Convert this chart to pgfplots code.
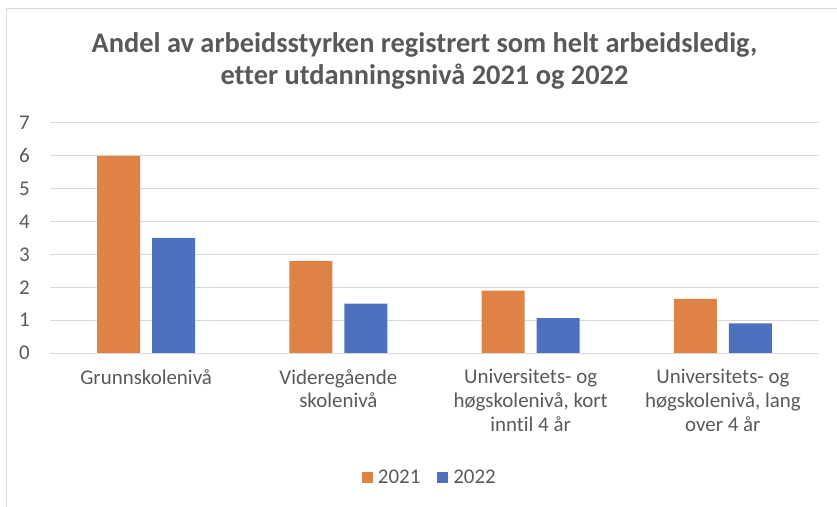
\documentclass[border=0pt]{standalone}
\usepackage{pgfplots}
\pgfplotsset{compat=1.18}
\usepackage{fontspec}
\setmainfont{Carlito}[Ligatures={NoCommon}]
\definecolor{cOrange}{HTML}{DE8246}
\definecolor{cBlue}{HTML}{4E71BE}
\definecolor{cGrid}{HTML}{D9D9D9}
\definecolor{cText}{HTML}{595959}
\begin{document}
\begin{tikzpicture}
\path[use as bounding box] (0bp,0bp) rectangle (837bp,507bp);
\draw[cGrid, line width=1bp] (6bp,0bp) -- (6bp,498bp) -- (837bp,498bp);
\node[align=center, text=cText, font=\fontsize{28.5}{32}\selectfont\bfseries, inner sep=0pt] at (424.5bp,446bp)
  {Andel av arbeidsstyrken registrert som helt arbeidsledig,\\etter utdanningsnivå 2021 og 2022};
\begin{axis}[
  at={(50bp,154bp)}, anchor=south west,
  scale only axis, width=769bp, height=230bp,
  ybar=12bp, bar width=43bp,
  xmin=-0.5, xmax=3.5, ymin=0, ymax=7,
  ytick={0,1,...,7},
  xtick=data,
  xticklabels={Grunnskolenivå, {Videregående\\skolenivå}, {Universitets- og\\høgskolenivå, kort\\inntil 4 år}, {Universitets- og\\høgskolenivå, lang\\over 4 år}},
  xticklabel style={align=center, anchor=north, inner sep=0pt, yshift=-16bp, font=\fontsize{21}{24}\selectfont, text=cText},
  yticklabel style={anchor=east, inner sep=0pt, xshift=-20bp, font=\fontsize{21}{23}\selectfont, text=cText},
  /pgf/number format/assume math mode=true,
  major tick length=0pt,
  axis line style={draw=none},
  ymajorgrids, grid style={cGrid, line width=1bp},
  legend style={at={(0.494,-0.543)}, anchor=center, draw=none, fill=none,
    legend columns=2, font=\fontsize{21}{23}\selectfont, text=cText,
    /tikz/every even column/.append style={column sep=15bp}},
  legend image code/.code={\fill[#1] (0bp,-5.5bp) rectangle (11bp,5.5bp); \path (0bp,0bp) -- (14bp,0bp);},
]
\addplot[fill=cOrange, draw=none] coordinates {(0,6.0) (1,2.8) (2,1.9) (3,1.65)};
\addplot[fill=cBlue, draw=none] coordinates {(0,3.5) (1,1.5) (2,1.06) (3,0.9)};
\legend{2021,2022}
\end{axis}
\end{tikzpicture}
\end{document}
